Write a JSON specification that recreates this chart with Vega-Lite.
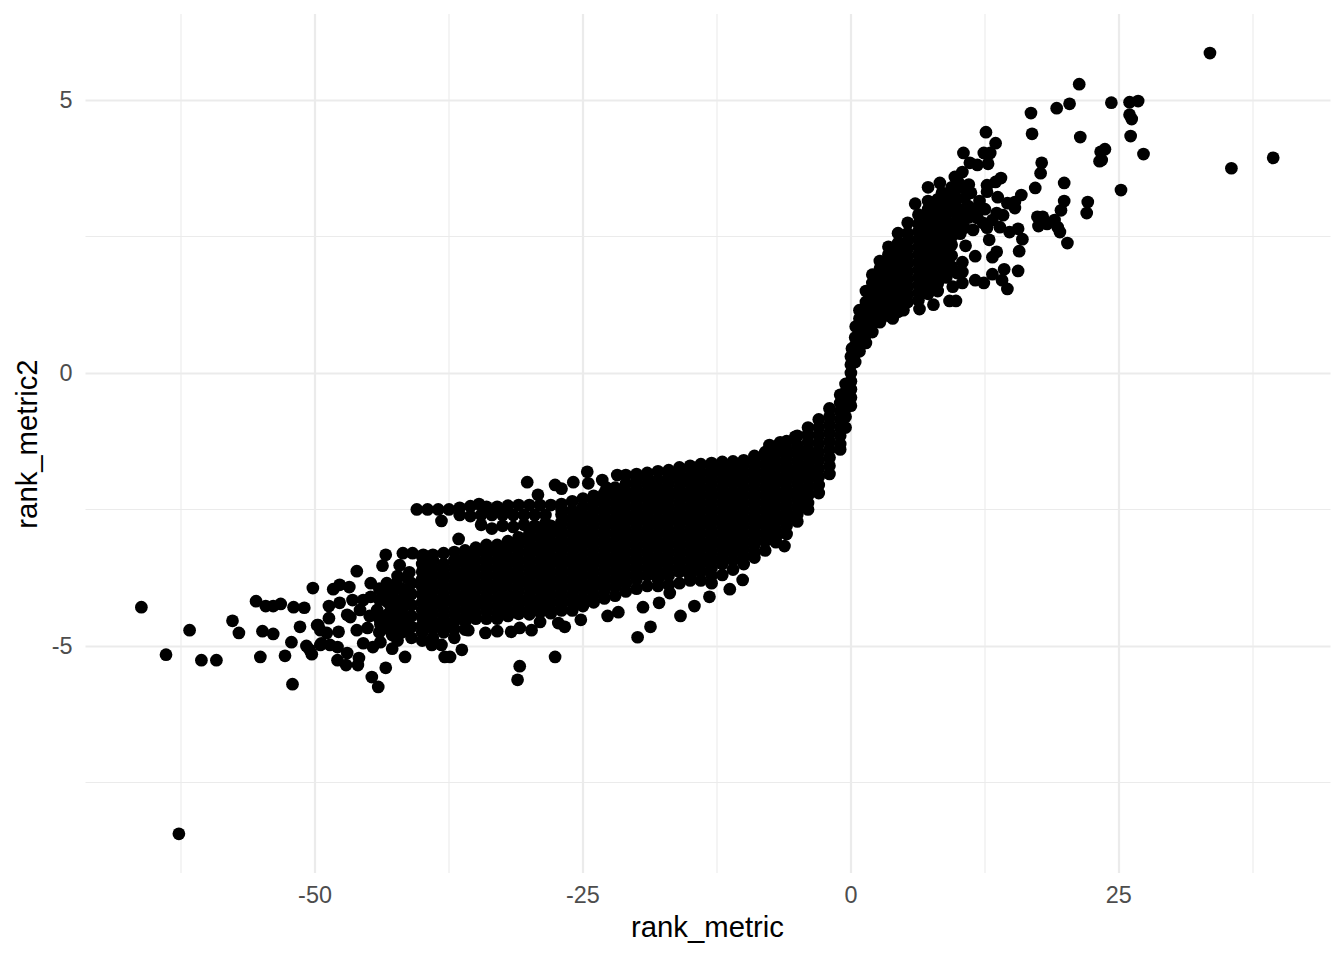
{"$schema":"https://vega.github.io/schema/vega-lite/v6.json","width":1245,"height":859,"autosize":{"type":"none"},"padding":{"left":85,"top":14,"right":14,"bottom":87},"background":"white","config":{"font":"Liberation Sans","view":{"stroke":null}},"mark":{"type":"circle","size":162,"color":"#000000","opacity":1},"encoding":{"x":{"field":"x","type":"quantitative","title":"rank_metric","scale":{"domain":[-71.46,44.7],"nice":false,"zero":false},"axis":{"values":[-62.5,-50,-37.5,-25,-12.5,0,12.5,25,37.5],"labelExpr":"datum.value % 25 === 0 ? '' + datum.value : ''","translate":0,"domain":false,"ticks":false,"grid":true,"gridColor":"#EBEBEB","gridWidth":{"condition":{"test":"datum.value % 25 === 0","value":2.2},"value":1.1},"labelColor":"#4D4D4D","labelFontSize":23.4,"labelPadding":12,"titleFontSize":29.3,"titleFontWeight":"normal","titleColor":"#000000","titlePadding":7}},"y":{"field":"y","type":"quantitative","title":"rank_metric2","scale":{"domain":[-9.158,6.575],"nice":false,"zero":false},"axis":{"values":[-7.5,-5,-2.5,0,2.5,5],"labelExpr":"datum.value % 5 === 0 ? '' + datum.value : ''","domain":false,"ticks":false,"grid":true,"gridColor":"#EBEBEB","gridWidth":{"condition":{"test":"datum.value % 5 === 0","value":2.2},"value":1.1},"labelColor":"#4D4D4D","labelFontSize":23.4,"labelPadding":13,"labelOffset":1,"titleFontSize":29.3,"titleFontWeight":"normal","titleColor":"#000000","titlePadding":9}}},"data":{"values":[
{"x":33.5,"y":5.86},{"x":35.5,"y":3.75},{"x":39.4,"y":3.94},{"x":-62.7,"y":-8.44},{"x":-66.2,"y":-4.29},{"x":-63.9,"y":-5.16},{"x":-61.7,"y":-4.71},{"x":-60.6,"y":-5.26},{"x":-59.2,"y":-5.26},{"x":-57.7,"y":-4.54},{"x":-57.1,"y":-4.76},{"x":-55.5,"y":-4.18},{"x":-55.1,"y":-5.2},{"x":-54.9,"y":-4.73},{"x":-54.6,"y":-4.27},{"x":-53.9,"y":-4.27},{"x":-53.2,"y":-4.23},{"x":-53.9,"y":-4.78},{"x":-52.8,"y":-5.18},{"x":-52.2,"y":-4.93},{"x":-52.1,"y":-5.7},{"x":-52,"y":-4.29},{"x":-51,"y":-4.3},{"x":-51.4,"y":-4.65},{"x":-50.8,"y":-5},{"x":-50.5,"y":-5.07},{"x":-50.3,"y":-5.15},{"x":-50.2,"y":-3.94},{"x":-49.8,"y":-4.62},{"x":-49.5,"y":-4.71},{"x":-49.5,"y":-4.98},
{"x":-48.3,"y":-3.96},{"x":-47.7,"y":-3.88},{"x":-46.8,"y":-3.92},{"x":-46.1,"y":-3.63},{"x":-43.4,"y":-3.33},{"x":-43.7,"y":-3.53},{"x":-44.8,"y":-3.85},{"x":-48.7,"y":-4.27},{"x":-47.7,"y":-4.21},{"x":-46.5,"y":-4.16},{"x":-45.5,"y":-4.16},{"x":-48.7,"y":-4.49},{"x":-49.7,"y":-4.62},{"x":-48.9,"y":-4.76},{"x":-47.8,"y":-4.74},{"x":-49.4,"y":-4.95},{"x":-48.6,"y":-4.98},{"x":-47.9,"y":-5.02},{"x":-47,"y":-5.13},{"x":-47.9,"y":-5.26},{"x":-47.1,"y":-5.35},{"x":-45.9,"y":-5.22},{"x":-46,"y":-5.35},{"x":-44.7,"y":-5.57},{"x":-44.1,"y":-5.75},{"x":-43.4,"y":-5.4},{"x":-42.8,"y":-5.05},{"x":-41.6,"y":-5.2},{"x":-45.1,"y":-4.67},{"x":-46.7,"y":-4.47},{"x":-46.1,"y":-4.71},{"x":-45.5,"y":-4.95},{"x":-44.6,"y":-5.02},{"x":-43.9,"y":-4.93},{"x":-44.2,"y":-4.34},{"x":-45.8,"y":-4.34},{"x":-47,"y":-4.43},{"x":-43.3,"y":-3.85},{"x":-42.4,"y":-3.85},{"x":-42.1,"y":-3.52},{"x":-41.8,"y":-3.3},{"x":-40.9,"y":-3.3},{"x":-39.9,"y":-3.33},{"x":-44.8,"y":-4.1},{"x":-43.6,"y":-4.15},{"x":-43.9,"y":-4.6},{"x":-44.9,"y":-4.45},{"x":-42.8,"y":-4.05},{"x":-42.9,"y":-4.3},{"x":-42.9,"y":-4.55},{"x":-42.8,"y":-4.8},{"x":-41.9,"y":-3.95},{"x":-41.9,"y":-4.15},{"x":-41.9,"y":-4.35},{"x":-41.9,"y":-4.55},{"x":-41.9,"y":-4.75},{"x":-41.2,"y":-3.65},{"x":-41,"y":-3.85},{"x":-41,"y":-4.05},{"x":-41,"y":-4.25},{"x":-41,"y":-4.45},{"x":-41,"y":-4.65},{"x":-41,"y":-4.85},{"x":-44,"y":-3.95},{"x":-44,"y":-4.15},{"x":-44,"y":-4.5},{"x":-44,"y":-4.75},{"x":-43.2,"y":-4},{"x":-43.2,"y":-4.2},{"x":-43.2,"y":-4.42},{"x":-43.2,"y":-4.68},{"x":-42.3,"y":-3.72},{"x":-42.3,"y":-3.95},{"x":-42.3,"y":-4.18},{"x":-42.3,"y":-4.42},{"x":-42.3,"y":-4.66},{"x":-42.3,"y":-4.9},{"x":-41.4,"y":-3.75},{"x":-41.4,"y":-4},{"x":-41.4,"y":-4.24},{"x":-41.4,"y":-4.5},{"x":-41.4,"y":-4.72},
{"x":-37.9,"y":-5.2},{"x":-37.4,"y":-5.2},{"x":-36.3,"y":-5.07},{"x":-34.1,"y":-4.76},{"x":-33,"y":-4.73},{"x":-31.7,"y":-4.74},{"x":-29,"y":-4.56},{"x":-30.9,"y":-5.37},{"x":-31.1,"y":-5.62},{"x":-27.6,"y":-5.2},{"x":-19.9,"y":-4.84},{"x":-18.7,"y":-4.65},{"x":-15.9,"y":-4.45},{"x":-26.7,"y":-4.65},{"x":-27.3,"y":-4.58},{"x":-25.2,"y":-4.52},{"x":-22.7,"y":-4.45},{"x":-21.7,"y":-4.38},{"x":-19.4,"y":-4.29},{"x":-17.9,"y":-4.21},{"x":-14.6,"y":-4.27},{"x":-11.3,"y":-3.96},{"x":-10.1,"y":-3.79},{"x":-6.2,"y":-3.17},{"x":-16.9,"y":-4.03},{"x":-13.2,"y":-4.1},{"x":-39.1,"y":-4.98},{"x":-38.2,"y":-4.98},{"x":-35.7,"y":-4.71},{"x":-30.9,"y":-4.67},{"x":-29.8,"y":-4.71},{"x":-36.6,"y":-3.04},{"x":-38.2,"y":-2.71},{"x":-30.2,"y":-2},{"x":-29.2,"y":-2.23},{"x":-27.6,"y":-2.05},{"x":-27,"y":-2.12},{"x":-25.9,"y":-2},{"x":-24.6,"y":-1.81},{"x":-24.5,"y":-2.02},{"x":-23.2,"y":-1.96},{"x":-22.8,"y":-2.1},{"x":-21.8,"y":-1.87},{"x":-7.6,"y":-1.32},{"x":-6.6,"y":-1.27},{"x":-5.2,"y":-1.17},{"x":-40,"y":-4.9},{"x":-39,"y":-4.85},{"x":-37,"y":-4.85},{"x":-36,"y":-4.7},
{"x":-40.5,"y":-2.5},{"x":-39.5,"y":-2.5},{"x":-38.5,"y":-2.5},{"x":-37.5,"y":-2.5},{"x":-36.5,"y":-2.47},{"x":-35.5,"y":-2.44},{"x":-34.7,"y":-2.4},{"x":-34,"y":-2.45},{"x":-33,"y":-2.45},{"x":-32,"y":-2.43},{"x":-31,"y":-2.42},{"x":-30,"y":-2.42},{"x":-29,"y":-2.42},{"x":-28,"y":-2.42},{"x":-36.5,"y":-2.6},{"x":-35.5,"y":-2.62},{"x":-34.5,"y":-2.6},{"x":-33.5,"y":-2.6},{"x":-32.5,"y":-2.6},{"x":-31.5,"y":-2.6},{"x":-30.5,"y":-2.6},{"x":-29.5,"y":-2.6},{"x":-28.5,"y":-2.6},{"x":-34.5,"y":-2.78},{"x":-33.5,"y":-2.85},{"x":-32.5,"y":-2.8},{"x":-31.5,"y":-2.82},{"x":-30.5,"y":-2.78},{"x":-29.5,"y":-2.8},{"x":-28.5,"y":-2.75},{"x":-28,"y":-2.9},
{"x":-40,"y":-3.36},{"x":-40,"y":-3.5},{"x":-40,"y":-3.64},{"x":-40,"y":-3.78},{"x":-40,"y":-3.92},{"x":-40,"y":-4.06},{"x":-40,"y":-4.2},{"x":-40,"y":-4.34},{"x":-40,"y":-4.48},{"x":-40,"y":-4.62},{"x":-40,"y":-4.75},
{"x":-39,"y":-3.33},{"x":-39,"y":-3.43},{"x":-39,"y":-3.57},{"x":-39,"y":-3.71},{"x":-39,"y":-3.85},{"x":-39,"y":-3.99},{"x":-39,"y":-4.13},{"x":-39,"y":-4.27},{"x":-39,"y":-4.41},{"x":-39,"y":-4.55},{"x":-39,"y":-4.69},
{"x":-38,"y":-3.3},{"x":-38,"y":-3.5},{"x":-38,"y":-3.64},{"x":-38,"y":-3.78},{"x":-38,"y":-3.92},{"x":-38,"y":-4.06},{"x":-38,"y":-4.2},{"x":-38,"y":-4.34},{"x":-38,"y":-4.48},{"x":-38,"y":-4.62},{"x":-38,"y":-4.75},
{"x":-37,"y":-3.28},{"x":-37,"y":-3.43},{"x":-37,"y":-3.57},{"x":-37,"y":-3.71},{"x":-37,"y":-3.85},{"x":-37,"y":-3.99},{"x":-37,"y":-4.13},{"x":-37,"y":-4.27},{"x":-37,"y":-4.41},{"x":-37,"y":-4.55},{"x":-37,"y":-4.69},
{"x":-36,"y":-3.25},{"x":-36,"y":-3.36},{"x":-36,"y":-3.5},{"x":-36,"y":-3.64},{"x":-36,"y":-3.78},{"x":-36,"y":-3.92},{"x":-36,"y":-4.06},{"x":-36,"y":-4.2},{"x":-36,"y":-4.34},{"x":-36,"y":-4.48},{"x":-36,"y":-4.55},
{"x":-35,"y":-3.2},{"x":-35,"y":-3.29},{"x":-35,"y":-3.43},{"x":-35,"y":-3.57},{"x":-35,"y":-3.71},{"x":-35,"y":-3.85},{"x":-35,"y":-3.99},{"x":-35,"y":-4.13},{"x":-35,"y":-4.27},{"x":-35,"y":-4.41},{"x":-35,"y":-4.5},
{"x":-34,"y":-3.15},{"x":-34,"y":-3.22},{"x":-34,"y":-3.36},{"x":-34,"y":-3.5},{"x":-34,"y":-3.64},{"x":-34,"y":-3.78},{"x":-34,"y":-3.92},{"x":-34,"y":-4.06},{"x":-34,"y":-4.2},{"x":-34,"y":-4.34},{"x":-34,"y":-4.5},
{"x":-33,"y":-3.15},{"x":-33,"y":-3.29},{"x":-33,"y":-3.43},{"x":-33,"y":-3.57},{"x":-33,"y":-3.71},{"x":-33,"y":-3.85},{"x":-33,"y":-3.99},{"x":-33,"y":-4.13},{"x":-33,"y":-4.27},{"x":-33,"y":-4.41},{"x":-33,"y":-4.5},
{"x":-32,"y":-3.08},{"x":-32,"y":-3.22},{"x":-32,"y":-3.36},{"x":-32,"y":-3.5},{"x":-32,"y":-3.64},{"x":-32,"y":-3.78},{"x":-32,"y":-3.92},{"x":-32,"y":-4.06},{"x":-32,"y":-4.2},{"x":-32,"y":-4.34},{"x":-32,"y":-4.45},
{"x":-31,"y":-3.01},{"x":-31,"y":-3.15},{"x":-31,"y":-3.29},{"x":-31,"y":-3.43},{"x":-31,"y":-3.57},{"x":-31,"y":-3.71},{"x":-31,"y":-3.85},{"x":-31,"y":-3.99},{"x":-31,"y":-4.13},{"x":-31,"y":-4.27},{"x":-31,"y":-4.41},
{"x":-30,"y":-2.94},{"x":-30,"y":-3.08},{"x":-30,"y":-3.22},{"x":-30,"y":-3.36},{"x":-30,"y":-3.5},{"x":-30,"y":-3.64},{"x":-30,"y":-3.78},{"x":-30,"y":-3.92},{"x":-30,"y":-4.06},{"x":-30,"y":-4.2},{"x":-30,"y":-4.34},{"x":-30,"y":-4.42},
{"x":-29,"y":-2.87},{"x":-29,"y":-3.01},{"x":-29,"y":-3.15},{"x":-29,"y":-3.29},{"x":-29,"y":-3.43},{"x":-29,"y":-3.57},{"x":-29,"y":-3.71},{"x":-29,"y":-3.85},{"x":-29,"y":-3.99},{"x":-29,"y":-4.13},{"x":-29,"y":-4.27},{"x":-29,"y":-4.38},
{"x":-28,"y":-2.8},{"x":-28,"y":-2.94},{"x":-28,"y":-3.08},{"x":-28,"y":-3.22},{"x":-28,"y":-3.36},{"x":-28,"y":-3.5},{"x":-28,"y":-3.64},{"x":-28,"y":-3.78},{"x":-28,"y":-3.92},{"x":-28,"y":-4.06},{"x":-28,"y":-4.2},{"x":-28,"y":-4.34},{"x":-28,"y":-4.4},
{"x":-27,"y":-2.4},{"x":-27,"y":-2.59},{"x":-27,"y":-2.73},{"x":-27,"y":-2.87},{"x":-27,"y":-3.01},{"x":-27,"y":-3.15},{"x":-27,"y":-3.29},{"x":-27,"y":-3.43},{"x":-27,"y":-3.57},{"x":-27,"y":-3.71},{"x":-27,"y":-3.85},{"x":-27,"y":-3.99},{"x":-27,"y":-4.13},{"x":-27,"y":-4.27},{"x":-27,"y":-4.35},{"x":-27,"y":-2.5},
{"x":-26,"y":-2.35},{"x":-26,"y":-2.52},{"x":-26,"y":-2.66},{"x":-26,"y":-2.8},{"x":-26,"y":-2.94},{"x":-26,"y":-3.08},{"x":-26,"y":-3.22},{"x":-26,"y":-3.36},{"x":-26,"y":-3.5},{"x":-26,"y":-3.64},{"x":-26,"y":-3.78},{"x":-26,"y":-3.92},{"x":-26,"y":-4.06},{"x":-26,"y":-4.2},{"x":-26,"y":-4.35},
{"x":-25,"y":-2.3},{"x":-25,"y":-2.45},{"x":-25,"y":-2.59},{"x":-25,"y":-2.73},{"x":-25,"y":-2.87},{"x":-25,"y":-3.01},{"x":-25,"y":-3.15},{"x":-25,"y":-3.29},{"x":-25,"y":-3.43},{"x":-25,"y":-3.57},{"x":-25,"y":-3.71},{"x":-25,"y":-3.85},{"x":-25,"y":-3.99},{"x":-25,"y":-4.13},{"x":-25,"y":-4.27},
{"x":-24,"y":-2.25},{"x":-24,"y":-2.38},{"x":-24,"y":-2.52},{"x":-24,"y":-2.66},{"x":-24,"y":-2.8},{"x":-24,"y":-2.94},{"x":-24,"y":-3.08},{"x":-24,"y":-3.22},{"x":-24,"y":-3.36},{"x":-24,"y":-3.5},{"x":-24,"y":-3.64},{"x":-24,"y":-3.78},{"x":-24,"y":-3.92},{"x":-24,"y":-4.06},{"x":-24,"y":-4.2},
{"x":-23,"y":-2.2},{"x":-23,"y":-2.31},{"x":-23,"y":-2.45},{"x":-23,"y":-2.59},{"x":-23,"y":-2.73},{"x":-23,"y":-2.87},{"x":-23,"y":-3.01},{"x":-23,"y":-3.15},{"x":-23,"y":-3.29},{"x":-23,"y":-3.43},{"x":-23,"y":-3.57},{"x":-23,"y":-3.71},{"x":-23,"y":-3.85},{"x":-23,"y":-3.99},{"x":-23,"y":-4.13},
{"x":-22,"y":-2.1},{"x":-22,"y":-2.24},{"x":-22,"y":-2.38},{"x":-22,"y":-2.52},{"x":-22,"y":-2.66},{"x":-22,"y":-2.8},{"x":-22,"y":-2.94},{"x":-22,"y":-3.08},{"x":-22,"y":-3.22},{"x":-22,"y":-3.36},{"x":-22,"y":-3.5},{"x":-22,"y":-3.64},{"x":-22,"y":-3.78},{"x":-22,"y":-3.92},{"x":-22,"y":-4.08},
{"x":-21,"y":-1.87},{"x":-21,"y":-2.03},{"x":-21,"y":-2.17},{"x":-21,"y":-2.31},{"x":-21,"y":-2.45},{"x":-21,"y":-2.59},{"x":-21,"y":-2.73},{"x":-21,"y":-2.87},{"x":-21,"y":-3.01},{"x":-21,"y":-3.15},{"x":-21,"y":-3.29},{"x":-21,"y":-3.43},{"x":-21,"y":-3.57},{"x":-21,"y":-3.71},{"x":-21,"y":-3.85},{"x":-21,"y":-4},
{"x":-20,"y":-1.85},{"x":-20,"y":-1.96},{"x":-20,"y":-2.1},{"x":-20,"y":-2.24},{"x":-20,"y":-2.38},{"x":-20,"y":-2.52},{"x":-20,"y":-2.66},{"x":-20,"y":-2.8},{"x":-20,"y":-2.94},{"x":-20,"y":-3.08},{"x":-20,"y":-3.22},{"x":-20,"y":-3.36},{"x":-20,"y":-3.5},{"x":-20,"y":-3.64},{"x":-20,"y":-3.78},{"x":-20,"y":-3.95},
{"x":-19,"y":-1.83},{"x":-19,"y":-1.89},{"x":-19,"y":-2.03},{"x":-19,"y":-2.17},{"x":-19,"y":-2.31},{"x":-19,"y":-2.45},{"x":-19,"y":-2.59},{"x":-19,"y":-2.73},{"x":-19,"y":-2.87},{"x":-19,"y":-3.01},{"x":-19,"y":-3.15},{"x":-19,"y":-3.29},{"x":-19,"y":-3.43},{"x":-19,"y":-3.57},{"x":-19,"y":-3.71},{"x":-19,"y":-3.9},
{"x":-18,"y":-1.8},{"x":-18,"y":-1.96},{"x":-18,"y":-2.1},{"x":-18,"y":-2.24},{"x":-18,"y":-2.38},{"x":-18,"y":-2.52},{"x":-18,"y":-2.66},{"x":-18,"y":-2.8},{"x":-18,"y":-2.94},{"x":-18,"y":-3.08},{"x":-18,"y":-3.22},{"x":-18,"y":-3.36},{"x":-18,"y":-3.5},{"x":-18,"y":-3.64},{"x":-18,"y":-3.78},{"x":-18,"y":-3.9},
{"x":-17,"y":-1.78},{"x":-17,"y":-1.89},{"x":-17,"y":-2.03},{"x":-17,"y":-2.17},{"x":-17,"y":-2.31},{"x":-17,"y":-2.45},{"x":-17,"y":-2.59},{"x":-17,"y":-2.73},{"x":-17,"y":-2.87},{"x":-17,"y":-3.01},{"x":-17,"y":-3.15},{"x":-17,"y":-3.29},{"x":-17,"y":-3.43},{"x":-17,"y":-3.57},{"x":-17,"y":-3.71},{"x":-17,"y":-3.88},
{"x":-16,"y":-1.73},{"x":-16,"y":-1.82},{"x":-16,"y":-1.96},{"x":-16,"y":-2.1},{"x":-16,"y":-2.24},{"x":-16,"y":-2.38},{"x":-16,"y":-2.52},{"x":-16,"y":-2.66},{"x":-16,"y":-2.8},{"x":-16,"y":-2.94},{"x":-16,"y":-3.08},{"x":-16,"y":-3.22},{"x":-16,"y":-3.36},{"x":-16,"y":-3.5},{"x":-16,"y":-3.64},{"x":-16,"y":-3.85},
{"x":-15,"y":-1.7},{"x":-15,"y":-1.75},{"x":-15,"y":-1.89},{"x":-15,"y":-2.03},{"x":-15,"y":-2.17},{"x":-15,"y":-2.31},{"x":-15,"y":-2.45},{"x":-15,"y":-2.59},{"x":-15,"y":-2.73},{"x":-15,"y":-2.87},{"x":-15,"y":-3.01},{"x":-15,"y":-3.15},{"x":-15,"y":-3.29},{"x":-15,"y":-3.43},{"x":-15,"y":-3.57},{"x":-15,"y":-3.71},{"x":-15,"y":-3.8},
{"x":-14,"y":-1.67},{"x":-14,"y":-1.82},{"x":-14,"y":-1.96},{"x":-14,"y":-2.1},{"x":-14,"y":-2.24},{"x":-14,"y":-2.38},{"x":-14,"y":-2.52},{"x":-14,"y":-2.66},{"x":-14,"y":-2.8},{"x":-14,"y":-2.94},{"x":-14,"y":-3.08},{"x":-14,"y":-3.22},{"x":-14,"y":-3.36},{"x":-14,"y":-3.5},{"x":-14,"y":-3.64},{"x":-14,"y":-3.8},
{"x":-13,"y":-1.65},{"x":-13,"y":-1.75},{"x":-13,"y":-1.89},{"x":-13,"y":-2.03},{"x":-13,"y":-2.17},{"x":-13,"y":-2.31},{"x":-13,"y":-2.45},{"x":-13,"y":-2.59},{"x":-13,"y":-2.73},{"x":-13,"y":-2.87},{"x":-13,"y":-3.01},{"x":-13,"y":-3.15},{"x":-13,"y":-3.29},{"x":-13,"y":-3.43},{"x":-13,"y":-3.57},{"x":-13,"y":-3.71},{"x":-13,"y":-3.85},
{"x":-12,"y":-1.63},{"x":-12,"y":-1.82},{"x":-12,"y":-1.96},{"x":-12,"y":-2.1},{"x":-12,"y":-2.24},{"x":-12,"y":-2.38},{"x":-12,"y":-2.52},{"x":-12,"y":-2.66},{"x":-12,"y":-2.8},{"x":-12,"y":-2.94},{"x":-12,"y":-3.08},{"x":-12,"y":-3.22},{"x":-12,"y":-3.36},{"x":-12,"y":-3.5},{"x":-12,"y":-3.7},{"x":-12,"y":-1.72},
{"x":-11,"y":-1.62},{"x":-11,"y":-1.75},{"x":-11,"y":-1.89},{"x":-11,"y":-2.03},{"x":-11,"y":-2.17},{"x":-11,"y":-2.31},{"x":-11,"y":-2.45},{"x":-11,"y":-2.59},{"x":-11,"y":-2.73},{"x":-11,"y":-2.87},{"x":-11,"y":-3.01},{"x":-11,"y":-3.15},{"x":-11,"y":-3.29},{"x":-11,"y":-3.43},{"x":-11,"y":-3.6},
{"x":-10,"y":-1.6},{"x":-10,"y":-1.68},{"x":-10,"y":-1.82},{"x":-10,"y":-1.96},{"x":-10,"y":-2.1},{"x":-10,"y":-2.24},{"x":-10,"y":-2.38},{"x":-10,"y":-2.52},{"x":-10,"y":-2.66},{"x":-10,"y":-2.8},{"x":-10,"y":-2.94},{"x":-10,"y":-3.08},{"x":-10,"y":-3.22},{"x":-10,"y":-3.36},{"x":-10,"y":-3.5},
{"x":-9,"y":-1.52},{"x":-9,"y":-1.61},{"x":-9,"y":-1.75},{"x":-9,"y":-1.89},{"x":-9,"y":-2.03},{"x":-9,"y":-2.17},{"x":-9,"y":-2.31},{"x":-9,"y":-2.45},{"x":-9,"y":-2.59},{"x":-9,"y":-2.73},{"x":-9,"y":-2.87},{"x":-9,"y":-3.01},{"x":-9,"y":-3.15},{"x":-9,"y":-3.29},{"x":-9,"y":-3.38},
{"x":-8,"y":-1.45},{"x":-8,"y":-1.54},{"x":-8,"y":-1.68},{"x":-8,"y":-1.82},{"x":-8,"y":-1.96},{"x":-8,"y":-2.1},{"x":-8,"y":-2.24},{"x":-8,"y":-2.38},{"x":-8,"y":-2.52},{"x":-8,"y":-2.66},{"x":-8,"y":-2.8},{"x":-8,"y":-2.94},{"x":-8,"y":-3.08},{"x":-8,"y":-3.25},
{"x":-7,"y":-1.35},{"x":-7,"y":-1.47},{"x":-7,"y":-1.61},{"x":-7,"y":-1.75},{"x":-7,"y":-1.89},{"x":-7,"y":-2.03},{"x":-7,"y":-2.17},{"x":-7,"y":-2.31},{"x":-7,"y":-2.45},{"x":-7,"y":-2.59},{"x":-7,"y":-2.73},{"x":-7,"y":-2.87},{"x":-7,"y":-3.01},{"x":-7,"y":-3.1},
{"x":-6,"y":-1.25},{"x":-6,"y":-1.4},{"x":-6,"y":-1.54},{"x":-6,"y":-1.68},{"x":-6,"y":-1.82},{"x":-6,"y":-1.96},{"x":-6,"y":-2.1},{"x":-6,"y":-2.24},{"x":-6,"y":-2.38},{"x":-6,"y":-2.52},{"x":-6,"y":-2.66},{"x":-6,"y":-2.8},{"x":-6,"y":-2.95},
{"x":-5,"y":-1.15},{"x":-5,"y":-1.33},{"x":-5,"y":-1.47},{"x":-5,"y":-1.61},{"x":-5,"y":-1.75},{"x":-5,"y":-1.89},{"x":-5,"y":-2.03},{"x":-5,"y":-2.17},{"x":-5,"y":-2.31},{"x":-5,"y":-2.45},{"x":-5,"y":-2.59},{"x":-5,"y":-2.72},
{"x":-4,"y":-1},{"x":-4,"y":-1.12},{"x":-4,"y":-1.26},{"x":-4,"y":-1.4},{"x":-4,"y":-1.54},{"x":-4,"y":-1.68},{"x":-4,"y":-1.82},{"x":-4,"y":-1.96},{"x":-4,"y":-2.1},{"x":-4,"y":-2.24},{"x":-4,"y":-2.38},{"x":-4,"y":-2.5},
{"x":-3,"y":-0.85},{"x":-3,"y":-1},{"x":-3,"y":-1.15},{"x":-3,"y":-1.3},{"x":-3,"y":-1.45},{"x":-3,"y":-1.6},{"x":-3,"y":-1.75},{"x":-3,"y":-1.9},{"x":-3,"y":-2.05},{"x":-3,"y":-2.2},
{"x":-2,"y":-0.65},{"x":-2,"y":-0.8},{"x":-2,"y":-0.95},{"x":-2,"y":-1.1},{"x":-2,"y":-1.25},{"x":-2,"y":-1.4},{"x":-2,"y":-1.55},{"x":-2,"y":-1.7},{"x":-2,"y":-1.85},
{"x":-1,"y":-0.4},{"x":-1,"y":-0.55},{"x":-1,"y":-0.7},{"x":-1,"y":-0.85},{"x":-1,"y":-1},{"x":-1,"y":-1.15},{"x":-1,"y":-1.3},{"x":-1,"y":-1.4},{"x":-0.5,"y":-0.2},{"x":-0.5,"y":-0.35},{"x":-0.5,"y":-0.5},{"x":-0.5,"y":-0.65},{"x":-0.5,"y":-0.8},{"x":-0.5,"y":-1},
{"x":0,"y":-0.6},{"x":0,"y":-0.45},{"x":0,"y":-0.3},{"x":0,"y":-0.15},{"x":0,"y":0},{"x":0,"y":0.15},{"x":0,"y":0.3},{"x":0.1,"y":0.45},
{"x":0.4,"y":0.2},{"x":0.4,"y":0.35},{"x":0.4,"y":0.5},{"x":0.4,"y":0.65},{"x":0.45,"y":0.85},
{"x":0.8,"y":0.4},{"x":0.8,"y":0.55},{"x":0.8,"y":0.7},{"x":0.8,"y":0.85},{"x":0.8,"y":1},{"x":0.8,"y":1.15},
{"x":1.4,"y":0.55},{"x":1.4,"y":0.7},{"x":1.4,"y":0.85},{"x":1.4,"y":1},{"x":1.4,"y":1.15},{"x":1.4,"y":1.3},{"x":1.4,"y":1.5},
{"x":2,"y":0.75},{"x":2,"y":0.9},{"x":2,"y":1.05},{"x":2,"y":1.2},{"x":2,"y":1.35},{"x":2,"y":1.5},{"x":2,"y":1.65},{"x":2,"y":1.8},
{"x":2.7,"y":0.93},{"x":2.7,"y":1.07},{"x":2.7,"y":1.21},{"x":2.7,"y":1.35},{"x":2.7,"y":1.49},{"x":2.7,"y":1.63},{"x":2.7,"y":1.77},{"x":2.7,"y":1.91},{"x":2.7,"y":2.05},
{"x":3.5,"y":1.05},{"x":3.5,"y":1.19},{"x":3.5,"y":1.33},{"x":3.5,"y":1.47},{"x":3.5,"y":1.61},{"x":3.5,"y":1.75},{"x":3.5,"y":1.89},{"x":3.5,"y":2.03},{"x":3.5,"y":2.17},{"x":3.5,"y":2.31},
{"x":3.9,"y":1},{"x":4.4,"y":1.12},{"x":4.4,"y":1.26},{"x":4.4,"y":1.4},{"x":4.4,"y":1.54},{"x":4.4,"y":1.68},{"x":4.4,"y":1.82},{"x":4.4,"y":1.96},{"x":4.4,"y":2.1},{"x":4.4,"y":2.24},{"x":4.4,"y":2.38},{"x":4.4,"y":2.56},
{"x":4.9,"y":1.15},{"x":5.3,"y":1.3},{"x":5.3,"y":1.44},{"x":5.3,"y":1.58},{"x":5.3,"y":1.72},{"x":5.3,"y":1.86},{"x":5.3,"y":2},{"x":5.3,"y":2.14},{"x":5.3,"y":2.28},{"x":5.3,"y":2.42},{"x":5.3,"y":2.56},{"x":5.3,"y":2.75},
{"x":6,"y":3.1},{"x":6.4,"y":1.17},{"x":6.3,"y":1.33},{"x":6.3,"y":1.47},{"x":6.3,"y":1.61},{"x":6.3,"y":1.75},{"x":6.3,"y":1.89},{"x":6.3,"y":2.03},{"x":6.3,"y":2.17},{"x":6.3,"y":2.31},{"x":6.3,"y":2.45},{"x":6.3,"y":2.59},{"x":6.3,"y":2.73},{"x":6.3,"y":2.9},
{"x":7.2,"y":3.4},{"x":7.7,"y":1.25},{"x":7.2,"y":1.45},{"x":7.2,"y":1.59},{"x":7.2,"y":1.73},{"x":7.2,"y":1.87},{"x":7.2,"y":2.01},{"x":7.2,"y":2.15},{"x":7.2,"y":2.29},{"x":7.2,"y":2.43},{"x":7.2,"y":2.57},{"x":7.2,"y":2.71},{"x":7.2,"y":2.85},{"x":7.2,"y":3},{"x":7.2,"y":3.15},
{"x":8.1,"y":1.5},{"x":8.1,"y":1.64},{"x":8.1,"y":1.78},{"x":8.1,"y":1.92},{"x":8.1,"y":2.06},{"x":8.1,"y":2.2},{"x":8.1,"y":2.34},{"x":8.1,"y":2.48},{"x":8.1,"y":2.62},{"x":8.1,"y":2.76},{"x":8.1,"y":2.9},{"x":8.1,"y":3.04},{"x":8.1,"y":3.18},{"x":8.3,"y":3.48},{"x":8.5,"y":3.3},
{"x":8.9,"y":1.75},{"x":8.9,"y":1.9},{"x":8.9,"y":2.05},{"x":8.9,"y":2.2},{"x":8.9,"y":2.35},{"x":8.9,"y":2.5},{"x":8.9,"y":2.65},{"x":8.9,"y":2.8},{"x":8.9,"y":2.95},{"x":8.9,"y":3.1},{"x":9.2,"y":3.25},{"x":9.4,"y":3.4},{"x":9.7,"y":2.95},{"x":9.7,"y":3.1},{"x":9.7,"y":3.25},{"x":9.7,"y":2.75},{"x":9.7,"y":2.6},{"x":10.4,"y":3.4},{"x":10.6,"y":3.2},{"x":10.6,"y":3},{"x":10.4,"y":2.85},{"x":11.2,"y":3.3},{"x":9.4,"y":1.95},{"x":9.4,"y":2.15},{"x":9.4,"y":2.35},{"x":9.4,"y":2.5},{"x":10.2,"y":2.55},{"x":11,"y":2.85},{"x":12,"y":3.15},{"x":10,"y":3.5},{"x":11,"y":3.45},
{"x":12.6,"y":4.41},{"x":13.5,"y":4.21},{"x":10.5,"y":4.03},{"x":12.4,"y":4.03},{"x":13,"y":4.03},{"x":11.1,"y":3.85},{"x":11.8,"y":3.81},{"x":12.8,"y":3.83},{"x":10.4,"y":3.68},{"x":9.7,"y":3.59},{"x":14,"y":3.57},{"x":13.5,"y":3.5},{"x":12.7,"y":3.44},{"x":12.7,"y":3.32},{"x":13.7,"y":3.22},{"x":15.9,"y":3.26},{"x":15.3,"y":3.13},{"x":14.6,"y":3.11},{"x":15.3,"y":3.02},{"x":14.2,"y":2.89},{"x":13.6,"y":2.93},{"x":11.8,"y":2.84},{"x":11.4,"y":2.62},{"x":10.6,"y":2.66},{"x":12.7,"y":2.66},{"x":13.9,"y":2.67},{"x":14.8,"y":2.58},{"x":15.6,"y":2.64},{"x":16,"y":2.45},{"x":12.9,"y":2.44},{"x":10.7,"y":2.33},{"x":11.6,"y":2.14},{"x":13.6,"y":2.22},{"x":13.2,"y":2.12},{"x":15.7,"y":2.23},{"x":10.4,"y":2.03},{"x":15.6,"y":1.87},{"x":14.3,"y":1.9},{"x":13.2,"y":1.81},{"x":11.6,"y":1.7},{"x":12.4,"y":1.65},{"x":14.1,"y":1.7},{"x":14.6,"y":1.54},{"x":9.9,"y":1.83},{"x":10.4,"y":1.85},{"x":10.4,"y":1.65},{"x":9.5,"y":1.58},{"x":9.2,"y":1.32},{"x":9.8,"y":1.32},{"x":11,"y":3.05},{"x":11.6,"y":3},{"x":12.5,"y":3},{"x":13.2,"y":2.8},{"x":12.3,"y":2.75},
{"x":16.9,"y":4.38},{"x":21.4,"y":4.32},{"x":17.8,"y":3.85},{"x":17.7,"y":3.66},{"x":17.2,"y":3.39},{"x":19.9,"y":3.48},{"x":19.9,"y":3.15},{"x":19.6,"y":2.98},{"x":22.1,"y":3.13},{"x":22,"y":2.93},{"x":17.4,"y":2.86},{"x":17.9,"y":2.86},{"x":17.5,"y":2.69},{"x":18.3,"y":2.73},{"x":19,"y":2.8},{"x":19.3,"y":2.67},{"x":19.5,"y":2.58},{"x":20.2,"y":2.38},
{"x":21.3,"y":5.29},{"x":16.8,"y":4.76},{"x":19.2,"y":4.85},{"x":20.4,"y":4.93},{"x":24.3,"y":4.95},{"x":26,"y":4.96},{"x":26.8,"y":4.98},{"x":26,"y":4.73},{"x":26.2,"y":4.65},{"x":26.1,"y":4.34},{"x":23.3,"y":4.05},{"x":23.7,"y":4.1},{"x":23.2,"y":3.88},{"x":23.4,"y":3.9},{"x":27.3,"y":4.01},{"x":25.2,"y":3.35}
]}}
